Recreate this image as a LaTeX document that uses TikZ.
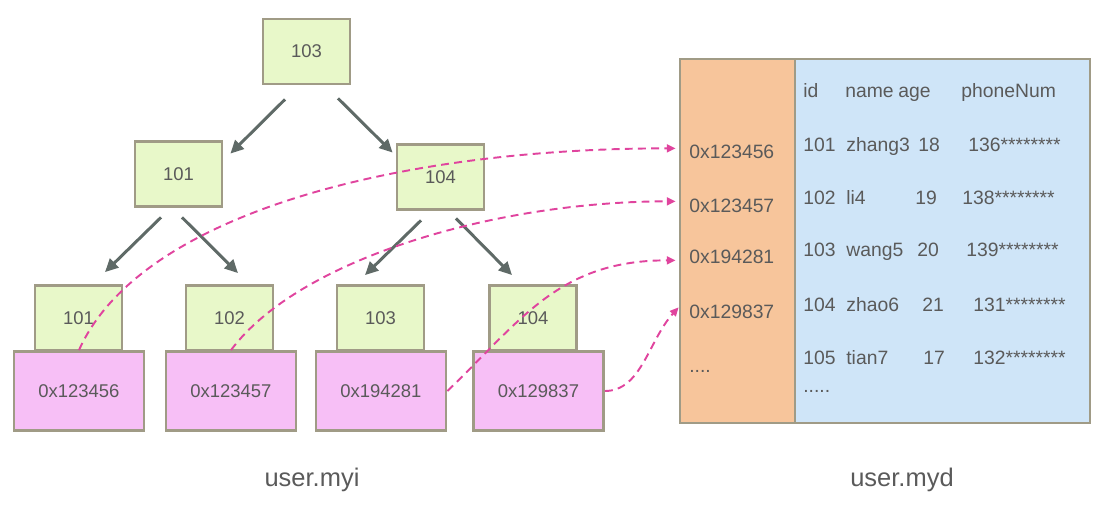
\documentclass[tikz,border=0pt]{standalone}
\usepackage{fontspec}
\setmainfont{Liberation Sans}
\usetikzlibrary{arrows.meta,calc}
\definecolor{keyColor}{HTML}{E8F8C9}
\definecolor{addrColor}{HTML}{F7BFF6}
\definecolor{rowAddrColor}{HTML}{F7C59B}
\definecolor{rowDataColor}{HTML}{CFE5F8}
\definecolor{borderColor}{HTML}{A09B86}
\definecolor{arrowColor}{HTML}{5F6A67}
\definecolor{pointerColor}{HTML}{E0449E}
\definecolor{textColor}{HTML}{5A5A5A}
\tikzstyle{indexPlane} = [x = 0.02cm, y = -0.02cm]
\tikzstyle{keyStyle} = [draw=borderColor, fill=keyColor, line width=1.6pt, minimum width=1.74cm, minimum height=1.30cm, font=\fontsize{10.5}{12}\selectfont, text=textColor]
\tikzstyle{addrStyle} = [keyStyle, fill=addrColor, minimum width=2.6cm, minimum height=1.58cm]
\tikzstyle{tableStyle} = [draw=borderColor, line width=1.6pt, minimum height=7.28cm, inner sep=0pt]
\tikzstyle{treeArrow} = [draw=arrowColor, line width=1.7pt, -{Triangle[length=7.5pt,width=7pt]}]
\tikzstyle{pointerLine} = [draw=pointerColor, line width=1.1pt, dash pattern=on 4.5pt off 3pt, -{Triangle[length=5pt,width=4.5pt]}]
\tikzstyle{cellText} = [anchor=base west, inner sep=0pt, text=textColor, font=\fontsize{11}{13}\selectfont]
\tikzstyle{fileLabel} = [anchor=base, inner sep=0pt, text=textColor, font=\fontsize{14.5}{17}\selectfont]
\newcommand{\leafEntry}[5]{
  \node [keyStyle] (key#1) at (#2, 318) {#4};
  \node [addrStyle] (addr#1) at (#3, 391) {#5};
}
\begin{document}
\begin{tikzpicture}[indexPlane]
        \useasboundingbox (0,0) rectangle (1102,506);

        % index tree
        \node [keyStyle] (root) at (306.5,51.5) {103};
        \node [keyStyle] (inner101) at (178.5,174) {101};
        \node [keyStyle] (inner104) at (440.5,177) {104};
        \leafEntry{101}{78.5}{79}{101}{0x123456}
        \leafEntry{102}{229.5}{231}{102}{0x123457}
        \leafEntry{103}{380.5}{381}{103}{0x194281}
        \leafEntry{104}{533}{538.5}{104}{0x129837}

        \draw [treeArrow] ($(root.south)+(-21.5,14)$) -- ($(inner101.north east)+(7,13.5)$);
        \draw [treeArrow] ($(root.south)+(31.5,13)$) -- ($(inner104.north west)+(-3,9.5)$);
        \draw [treeArrow] ($(inner101.south)+(-17.5,9.5)$) -- ($(key101.north)+(26.5,-12)$);
        \draw [treeArrow] ($(inner101.south)+(3.5,9.5)$) -- ($(key102.north)+(8.5,-11)$);
        \draw [treeArrow] ($(inner104.south)+(-19.5,9.5)$) -- ($(key103.north)+(-15.5,-9)$);
        \draw [treeArrow] ($(inner104.south)+(15.5,7.5)$) -- ($(key104.north)+(-21,-9)$);

        % data file
        \node [tableStyle, fill=rowDataColor, minimum width=5.9cm] (dataRows) at (942.5,241) {};
        \node [tableStyle, fill=rowAddrColor, minimum width=2.3cm] (dataAddr) at (737.5,241) {};

        \node [cellText] (rowAddr1) at (689,159) {0x123456};
        \node [cellText] (rowAddr2) at (689,213) {0x123457};
        \node [cellText] (rowAddr3) at (689,264) {0x194281};
        \node [cellText] (rowAddr4) at (689,319) {0x129837};
        \node [cellText] (rowAddrMore) at (689,373) {....};

        \node [cellText] (headId) at (803,98) {id};
        \node [cellText] (headName) at (845,98) {name};
        \node [cellText] (headAge) at (898,98) {age};
        \node [cellText] (headPhone) at (961,98) {phoneNum};
        \foreach \rowY/\rowId/\rowName/\ageX/\rowAge/\phoneX/\rowPhone in {152/101/zhang3/918/18/968/136, 205/102/li4/915/19/962/138, 257/103/wang5/917/20/966/139, 312/104/zhao6/922/21/973/131, 365/105/tian7/923/17/973/132} {
          \node [cellText] (id\rowId) at (803,\rowY) {\rowId};
          \node [cellText] (name\rowId) at (846,\rowY) {\rowName};
          \node [cellText] (age\rowId) at (\ageX,\rowY) {\rowAge};
          \node [cellText] (phone\rowId) at (\phoneX,\rowY) {\rowPhone********};
        }
        \node [cellText] (rowMore) at (803,393) {.....};

        % pointers from leaves to rows
        \draw [pointerLine] (addr101.north) .. controls +(61,-136.5) and +(-277,0) .. ($(dataAddr.west |- rowAddr1)+(-3,-4)$);
        \draw [pointerLine] (addr102.north) .. controls +(69,-92.5) and +(-177,0) .. ($(dataAddr.west |- rowAddr2)+(-3,-5)$);
        \draw [pointerLine] (addr103.east) .. controls +(74,-71) and +(-117,0) .. ($(dataAddr.west |- rowAddr3)+(-3,3)$);
        \draw [pointerLine] (addr104.east) .. controls +(36.5,0) and +(-30,33) .. ($(dataAddr.west |- rowAddr4)+(0,-5)$);

        \node [fileLabel] (indexLabel) at (312,486) {user.myi};
        \node [fileLabel] (dataLabel) at (902,486) {user.myd};
      \end{tikzpicture}
\end{document}
